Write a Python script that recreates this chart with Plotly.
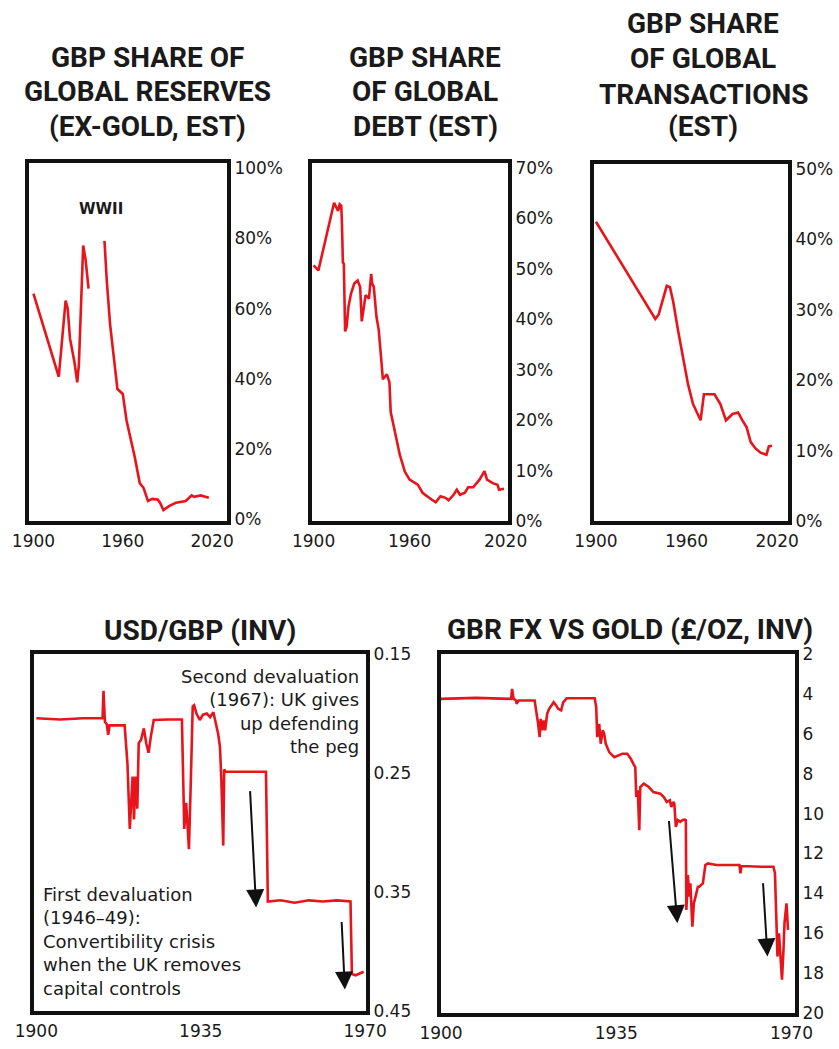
import plotly.graph_objects as go

W, H = 839, 1049
RED = "#e8141c"
INK = "#1a1a1a"

# ---- data ----
res_year = [1900, 1917, 1921.6, 1923, 1924.5, 1927.6, 1929.4, 1930.5, 1933.4, 1935, 1937, 1942,
            1947.7, 1949.3, 1951.5, 1953.7, 1956.4, 1960, 1962.5, 1964.7, 1968, 1971.4, 1974,
            1976.9, 1979.8, 1983.5, 1985, 1987.3, 1991.3, 1995.7, 2002.3, 2006.3, 2007.9, 2012.3, 2017.8]
res_share = [64.3, 40.6, 62.3, 60, 51.6, 44.6, 39, 44, 78, 74, 65.7, None,
             79.3, 67.6, 55.4, 47, 37.1, 35.7, 28.2, 24, 17.8, 10.3, 8.9,
             5.2, 5.8, 5.6, 4.7, 2.6, 3.8, 4.7, 5.2, 6.8, 6.4, 6.8, 6.1]

debt_year = [1900, 1903, 1912.8, 1914.2, 1915.3, 1916.3, 1917.3, 1917.7, 1918.3, 1918.9, 1919.7,
             1920.6, 1921.8, 1923.4, 1925.4, 1927.5, 1929.1, 1930.1, 1931.5, 1932.5, 1934.6, 1936,
             1936.6, 1937.6, 1939.3, 1940.7, 1942.1, 1943.3, 1945.8, 1947.4, 1948.2, 1950.8, 1953.9,
             1957, 1960, 1965.1, 1968.1, 1972.2, 1976.3, 1979.3, 1982.4, 1984.4, 1987.5, 1989.5,
             1991.5, 1994.6, 1996.6, 1999.7, 2003.7, 2006.8, 2008.4, 2011.9, 2014.9, 2015.9, 2019]
debt_share = [50.7, 49.7, 63.1, 62.1, 61.5, 62.8, 62.5, 59.2, 51.3, 51.0, 37.6,
              38.5, 42.5, 45.1, 47.1, 47.7, 46.4, 39.6, 42.5, 44.8, 44.1, 49,
              47.1, 46.5, 40.5, 37.9, 32.7, 28.1, 29.1, 27.5, 21.6, 17.7, 13.1,
              9.8, 8.2, 7.2, 5.6, 4.6, 3.7, 4.9, 4.6, 4.1, 5.2, 6.2,
              5.2, 5.6, 6.7, 6.7, 8.2, 9.9, 8.2, 7.5, 7.2, 6.2, 6.4]

trans_year = [1900, 1939.3, 1941.5, 1946.9, 1949, 1951.2, 1954.5, 1957.8, 1961, 1964.3, 1969.3,
              1971.5, 1978.5, 1982.4, 1986.1, 1990.5, 1994.2, 1997, 1999.8, 2002.5, 2005.7,
              2009, 2012.9, 2014.5, 2016.6]
trans_share = [42.5, 28.7, 29.3, 33.4, 33.2, 31.1, 26.9, 23.1, 19.4, 16.6, 14.3,
               18, 18, 16.6, 14.3, 15.2, 15.4, 14.3, 13.3, 11.2, 10.3,
               9.7, 9.4, 10.6, 10.7]

fx_year = [1900, 1905, 1910, 1914.1, 1914.3, 1914.6, 1915.0, 1915.3, 1915.6, 1918.8, 1919.4,
           1919.9, 1920.2, 1920.5, 1920.8, 1921.1, 1921.5, 1921.8, 1922.3, 1922.9, 1923.4,
           1923.9, 1924.4, 1925.0, 1928, 1931.0, 1931.2, 1931.5, 1931.9, 1932.2, 1932.5,
           1932.9, 1933.3, 1933.6, 1934.1, 1934.8, 1935.5, 1936.3, 1937.0, 1937.7, 1938.4,
           1938.7, 1939.1, 1939.4, 1939.8, 1940.0, 1940.3, 1944, 1948.9, 1949.3, 1952,
           1955, 1958, 1961, 1964, 1966.9, 1967.2, 1968, 1969.7]
usd_gbp_inv = [0.204, 0.205, 0.204, 0.204, 0.181, 0.207, 0.209, 0.218, 0.21, 0.21, 0.242,
               0.297, 0.275, 0.253, 0.289, 0.253, 0.28, 0.225, 0.222, 0.2125, 0.225,
               0.233, 0.219, 0.2055, 0.205, 0.205, 0.242, 0.297, 0.275, 0.297, 0.314,
               0.256, 0.194, 0.193, 0.2, 0.2055, 0.201, 0.2, 0.203, 0.199, 0.211,
               0.2167, 0.228, 0.256, 0.311, 0.247, 0.249, 0.249, 0.249, 0.358, 0.357,
               0.359, 0.357, 0.358, 0.357, 0.358, 0.419, 0.42, 0.417]

gold_year = [1900, 1907, 1914, 1914.2, 1914.5, 1915.0, 1915.1, 1915.5, 1918.7, 1919.0, 1919.4,
             1919.7, 1919.9, 1920.2, 1920.5, 1920.8, 1921.2, 1921.6, 1922.0, 1922.5, 1923.0,
             1923.4, 1924.0, 1924.4, 1925.1, 1930.7, 1931.0, 1931.2, 1931.6, 1931.9, 1932.3,
             1932.6, 1932.9, 1933.6, 1934.6, 1935.3, 1936.2, 1937.2, 1937.9, 1938.4, 1938.8,
             1939.0, 1939.3, 1939.6, 1939.8, 1940.5, 1941.5, 1942.4, 1943.8, 1944.5, 1945.1,
             1945.7, 1946.0, 1946.4, 1946.6, 1946.9, 1947.3, 1947.8, 1948.2, 1948.7, 1948.9,
             1949.0, 1949.3, 1949.6, 1949.8, 1950.2, 1950.5, 1951.0, 1951.3, 1951.6, 1952.3,
             1952.8, 1953.3, 1955, 1958.2, 1959.6, 1959.8, 1960.0, 1964, 1966.4, 1966.7,
             1967.0, 1967.2, 1967.5, 1967.8, 1968.1, 1968.4, 1968.6, 1969.0, 1969.3]
gold_inv = [4.25, 4.2, 4.25, 3.75, 4.25, 4.33, 4.5, 4.33, 4.33, 4.75, 5.5,
            6.17, 5.25, 5.83, 5.33, 5.83, 5.0, 4.75, 4.58, 4.42, 4.58,
            4.75, 4.83, 4.42, 4.22, 4.22, 4.67, 6.17, 5.5, 6.5, 5.83,
            6.0, 6.5, 6.92, 7.17, 7.08, 7.0, 7.0, 7.25, 7.5, 7.67,
            9.17, 8.83, 10.83, 8.67, 8.5, 8.67, 8.92, 9.0, 9.17, 9.42,
            9.33, 9.67, 9.42, 9.5, 10.67, 10.33, 10.42, 10.33, 10.3, 10.33,
            14.83, 13.08, 14.17, 13.5, 15.67, 14.5, 14.0, 13.67, 13.67, 13.5,
            12.58, 12.5, 12.58, 12.58, 12.58, 13.0, 12.63, 12.67, 12.67, 13.0,
            15.83, 17.17, 16.0, 17.5, 18.33, 16.83, 15.5, 14.5, 15.83]

for a, b in [(res_year, res_share), (debt_year, debt_share), (trans_year, trans_share),
             (fx_year, usd_gbp_inv), (gold_year, gold_inv)]:
    assert len(a) == len(b), (len(a), len(b))

# ---- panel frames in pixels: (left, right, top, bottom) ----
boxes = [(29, 227, 163, 521), (312, 508, 163, 521), (594, 788, 164, 521),
         (34, 366, 654, 1011), (441, 795, 654, 1013)]

def xd(l, r):
    return [l / W, r / W]

def yd(t, b):
    return [1 - b / H, 1 - t / H]

series = [(res_year, res_share), (debt_year, debt_share), (trans_year, trans_share),
          (fx_year, usd_gbp_inv), (gold_year, gold_inv)]

fig = go.Figure()
for i, (xs, ys) in enumerate(series):
    n = "" if i == 0 else str(i + 1)
    fig.add_trace(go.Scatter(x=xs, y=ys, mode="lines", xaxis="x" + n, yaxis="y" + n,
                             line=dict(color=RED, width=2.6), connectgaps=False,
                             hoverinfo="skip"))

tickfont = dict(family="DejaVu Sans, sans-serif", size=17, color=INK)
axis_common = dict(showline=True, linewidth=4, linecolor="#111", mirror=True, automargin=False,
                   showgrid=False, zeroline=False, ticks="", tickfont=tickfont)

x_ranges = [[1897, 2030], [1899, 2021.5], [1898.7, 2027.2], [1899.5, 1970.2], [1900, 1970.7]]
x_ticks = [[1900, 1960, 2020]] * 3 + [[1900, 1935, 1970]] * 2
y_ranges = [[-0.5, 101.5], [0, 71], [0, 50.7], [0.45, 0.15], [20, 2]]
y_ticks = [list(range(0, 101, 20)), list(range(0, 71, 10)), list(range(0, 51, 10)),
           [0.15, 0.25, 0.35, 0.45], list(range(2, 21, 2))]

layout = {}
for i, (l, r, t, b) in enumerate(boxes):
    n = "" if i == 0 else str(i + 1)
    xa = dict(axis_common, domain=xd(l, r), range=x_ranges[i], tickvals=x_ticks[i],
              anchor="y" + n, ticklabelstandoff=2)
    if i < 3:
        ya = dict(axis_common, domain=yd(t, b), range=y_ranges[i], tickvals=y_ticks[i],
                  ticktext=[f"{v}%" for v in y_ticks[i]], side="right", anchor="x" + n)
    elif i == 3:
        ya = dict(axis_common, domain=yd(t, b), range=y_ranges[i], tickvals=y_ticks[i],
                  ticktext=[f"{v:.2f}" for v in y_ticks[i]], side="right", anchor="x" + n)
    else:
        ya = dict(axis_common, domain=yd(t, b), range=y_ranges[i], tickvals=y_ticks[i],
                  side="right", anchor="x" + n)
    layout["xaxis" + n] = xa
    layout["yaxis" + n] = ya

fig.update_layout(**layout)

# ---- titles ----
TFONT = dict(family="Roboto, sans-serif", size=28, color=INK, weight="bold")
titles = [
    (147, [67, 102, 137], ["GBP SHARE OF", "GLOBAL RESERVES", "(EX-GOLD, EST)"]),
    (425, [67, 102, 137], ["GBP SHARE", "OF GLOBAL", "DEBT (EST)"]),
    (703, [34, 69, 104, 137], ["GBP SHARE", "OF GLOBAL", "TRANSACTIONS", "(EST)"]),
    (200, [640], ["USD/GBP (INV)"]),
    (630, [639], ["GBR FX VS GOLD (£/OZ, INV)"]),
]
for cx, bases, lines in titles:
    for base, txt in zip(bases, lines):
        fig.add_annotation(xref="paper", yref="paper", x=cx / W, y=1 - (base - 10) / H,
                           text=txt, showarrow=False, xanchor="center", yanchor="middle",
                           font=TFONT)

NFONT = dict(family="DejaVu Sans, sans-serif", size=18, color=INK)
fig.add_annotation(xref="paper", yref="paper", x=101 / W, y=1 - 209 / H, text="WWII",
                   showarrow=False, xanchor="center", yanchor="middle",
                   font=dict(NFONT, size=15, weight="bold"))
fig.add_annotation(xref="paper", yref="paper", x=361 / W, y=1 - 664 / H,
                   text="Second devaluation<br>(1967): UK gives<br>up defending<br>the peg",
                   showarrow=False, xanchor="right", yanchor="top", align="right", font=NFONT)
fig.add_annotation(xref="paper", yref="paper", x=41 / W, y=1 - 882 / H,
                   text="First devaluation<br>(1946–49):<br>Convertibility crisis<br>when the UK removes<br>capital controls",
                   showarrow=False, xanchor="left", yanchor="top", align="left", font=NFONT)

# ---- arrows ----
arrows = [("x4", "y4", (1945.5, 0.264), (1946.8, 0.363)),
          ("x4", "y4", (1965.0, 0.374), (1965.7, 0.432)),
          ("x5", "y5", (1945.5, 10.3), (1947.2, 15.5)),
          ("x5", "y5", (1964.3, 13.42), (1965.2, 17.17))]
for xr, yr, tail, head in arrows:
    fig.add_annotation(xref=xr, yref=yr, axref=xr, ayref=yr, x=head[0], y=head[1],
                       ax=tail[0], ay=tail[1], text="", showarrow=True, arrowhead=2,
                       arrowsize=1.8, arrowwidth=2, arrowcolor="#111", standoff=0)

fig.update_layout(width=W, height=H, margin=dict(l=0, r=0, t=0, b=0),
                  paper_bgcolor="white", plot_bgcolor="white", showlegend=False)

# the page body has a default 8px margin; drop it so the figure sits at the window origin
fig.write_html("out.html", config={"displayModeBar": False},
               post_script="document.body.style.margin='0px';")
